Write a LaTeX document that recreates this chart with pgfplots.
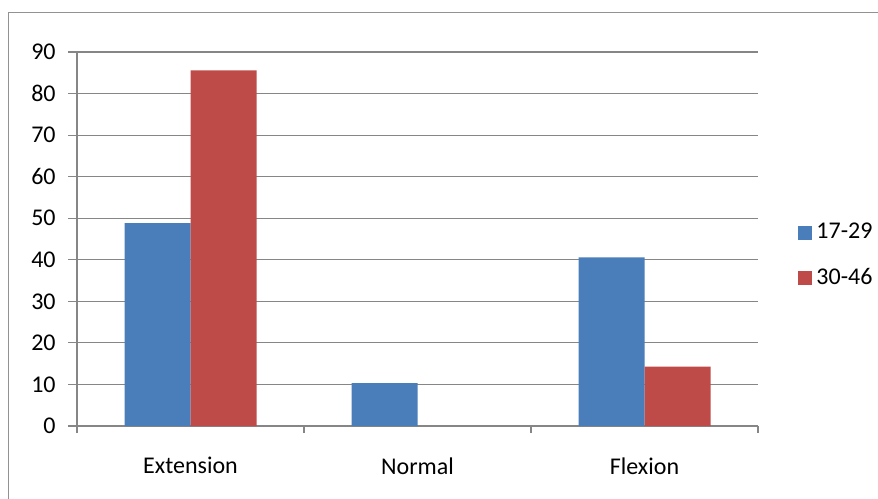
\documentclass[border=0pt]{standalone}
\usepackage{pgfplots}
\pgfplotsset{compat=1.18}
\usepackage{fontspec}
\setmainfont{Carlito}
\definecolor{xblue}{HTML}{4A7EBB}
\definecolor{xred}{HTML}{BE4B48}
\definecolor{gridgray}{HTML}{868686}
\begin{document}
\fontsize{12}{14}\selectfont
\begin{tikzpicture}
\useasboundingbox (0,0) rectangle (439pt,249pt);
\clip (0,0) rectangle (439pt,249pt);
\draw[gridgray!90, line width=0.5pt] (4pt,-10pt) rectangle (460pt,242.6pt);
\begin{axis}[
  at={(38.5pt,36pt)}, anchor=south west,
  scale only axis, width=340.5pt, height=187pt,
  ybar=0pt, bar width=33pt,
  xmin=-0.5, xmax=2.5, ymin=0, ymax=90,
  xtick={0,1,2}, xticklabels={Extension,Normal,Flexion},
  major x tick style={draw=none},
  minor xtick={-0.5,0.5,1.5,2.5},
  ytick={0,10,...,90},
  ymajorgrids, grid style={gridgray, line width=0.6pt},
  axis x line*=bottom, axis y line*=left,
  axis line style={gridgray, line width=0.6pt, -},
  tick align=outside, tick style={gridgray, line width=0.6pt},
  major tick length=4.5pt, minor tick length=3.5pt,
  tick label style={font=\fontsize{12}{14}\selectfont},
  /pgf/number format/assume math mode=true,
  xticklabel style={yshift=-7pt},
  yticklabel style={xshift=-2pt},
  legend style={at={(1.050,0.455)}, anchor=west, draw=none, fill=none,
    row sep=9pt, font=\fontsize{12}{14}\selectfont},
  legend cell align=left,
  legend image code/.code={\fill[#1] (0pt,-3.5pt) rectangle (7pt,3.5pt);},
]
\addplot[fill=xblue, draw=none] coordinates {(0,48.8) (1,10.3) (2,40.6)};
\addplot[fill=xred, draw=none] coordinates {(0,85.6) (2,14.3)};
\legend{17-29,30-46}
\end{axis}
\end{tikzpicture}
\end{document}
